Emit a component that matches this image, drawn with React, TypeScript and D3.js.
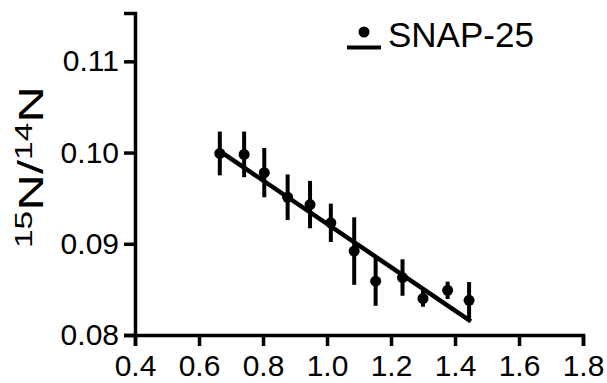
import { useEffect, useRef } from "react";
import * as d3 from "d3";

// values (x = ratio, y = 15N/14N, err = half bar height)
const xValues = [0.665, 0.741, 0.804, 0.877, 0.947, 1.012, 1.085, 1.152, 1.236, 1.3, 1.377, 1.444];
const yValues = [0.0999, 0.0998, 0.0978, 0.0951, 0.0943, 0.0923, 0.0892, 0.0859, 0.0863, 0.084, 0.0849, 0.0838];
const errValues = [0.0024, 0.0025, 0.0027, 0.0025, 0.0026, 0.0021, 0.0037, 0.0027, 0.002, 0.0009, 0.00095, 0.002];

// linear fit drawn over the data range
const fitX = [0.665, 1.444];
const fitSlope = -0.02376;
const fitIntercept = 0.11595;

const xTicks = [0.4, 0.6, 0.8, 1.0, 1.2, 1.4, 1.6, 1.8];
const yTicks = [0.08, 0.09, 0.1, 0.11];
const seriesName = "SNAP-25";

const FONT = "'Liberation Sans', Arial, Helvetica, sans-serif";

export default function App() {
  const ref = useRef<SVGSVGElement>(null);

  useEffect(() => {
    const svg = d3.select(ref.current);
    svg.selectAll("*").remove();

    const x = d3.scaleLinear().domain([0.4, 1.8]).range([135, 583]);
    const y = d3.scaleLinear().domain([0.08, 0.1153]).range([335, 13]);

    const points = xValues.map((v, i) => ({ x: v, y: yValues[i], e: errValues[i] }));

    // axes
    const xAxis = svg.append("g")
      .attr("transform", `translate(0, ${y(0.08)})`)
      .call(d3.axisBottom(x).tickValues(xTicks).tickFormat(d3.format(".1f")).tickSizeOuter(0).tickSize(11).tickPadding(9));
    const yAxis = svg.append("g")
      .attr("transform", `translate(${x(0.4)}, 0)`)
      .call(d3.axisLeft(y).tickValues(yTicks).tickFormat(d3.format(".2f")).tickSizeOuter(0).tickSize(11).tickPadding(5));

    [xAxis, yAxis].forEach(g => {
      g.select(".domain").attr("stroke", "#000").attr("stroke-width", 3.5);
      g.selectAll(".tick line").attr("stroke", "#000").attr("stroke-width", 3.5);
      g.selectAll(".tick text")
        .attr("fill", "#000")
        .style("font-family", FONT)
        .style("font-size", "30px");
    });

    // fit line
    svg.append("line")
      .attr("x1", x(fitX[0]))
      .attr("y1", y(fitIntercept + fitSlope * fitX[0]))
      .attr("x2", x(fitX[1]))
      .attr("y2", y(fitIntercept + fitSlope * fitX[1]))
      .attr("stroke", "#000")
      .attr("stroke-width", 4.5)
      .attr("stroke-linecap", "square");

    // error bars
    svg.append("g").selectAll("line")
      .data(points)
      .join("line")
      .attr("x1", d => x(d.x))
      .attr("x2", d => x(d.x))
      .attr("y1", d => y(d.y - d.e))
      .attr("y2", d => y(d.y + d.e))
      .attr("stroke", "#000")
      .attr("stroke-width", 4);

    // points
    svg.append("g").selectAll("circle")
      .data(points)
      .join("circle")
      .attr("cx", d => x(d.x))
      .attr("cy", d => y(d.y))
      .attr("r", 5.5)
      .attr("fill", "#000");

    // legend
    const legend = svg.append("g");
    legend.append("circle").attr("cx", 364).attr("cy", 32).attr("r", 5.5).attr("fill", "#000");
    legend.append("line")
      .attr("x1", 347).attr("x2", 381).attr("y1", 47.5).attr("y2", 47.5)
      .attr("stroke", "#000").attr("stroke-width", 4);
    legend.append("text")
      .attr("x", 388).attr("y", 47)
      .style("font-family", FONT).style("font-size", "35px")
      .text(seriesName);

    // y axis title: 15N/14N
    const title = svg.append("text")
      .attr("transform", "translate(43, 167) rotate(-90)")
      .attr("text-anchor", "middle")
      .attr("textLength", 162)
      .attr("lengthAdjust", "spacingAndGlyphs")
      .style("font-family", FONT)
      .style("font-size", "35px");
    title.append("tspan").attr("dy", -11).style("font-size", "23px").text("15");
    title.append("tspan").attr("dy", 11).text("N/");
    title.append("tspan").attr("dy", -11).style("font-size", "23px").text("14");
    title.append("tspan").attr("dy", 11).text("N");
  }, []);

  return (
    <svg
      ref={ref}
      width={607}
      height={383}
      style={{ position: "absolute", left: 0, top: 0, background: "#fff" }}
    />
  );
}
